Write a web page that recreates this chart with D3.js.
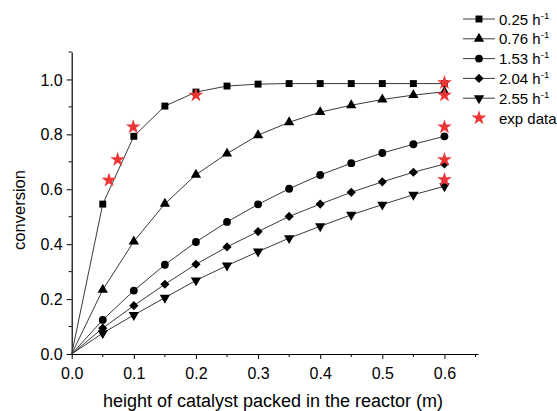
<!DOCTYPE html>
<html>
<head>
<meta charset="utf-8">
<script src="https://cdn.jsdelivr.net/npm/d3@7"></script>
<style>
  body { margin: 0; background: #fff; }
  svg { font-family: "Liberation Sans", Arial, sans-serif; }
</style>
</head>
<body>
<div class="chart"></div>
<script>
const width = 557;
const height = 411;

// data
const heights = [0, 0.05, 0.1, 0.15, 0.2, 0.25, 0.3, 0.35, 0.4, 0.45, 0.5, 0.55, 0.6];
const whsv025 = [0, 0.546, 0.793, 0.903, 0.954, 0.976, 0.983, 0.985, 0.985, 0.985, 0.985, 0.985, 0.985];
const whsv076 = [0, 0.234, 0.41, 0.547, 0.653, 0.73, 0.797, 0.844, 0.881, 0.906, 0.927, 0.943, 0.955];
const whsv153 = [0, 0.124, 0.231, 0.325, 0.408, 0.481, 0.545, 0.602, 0.652, 0.695, 0.732, 0.764, 0.793];
const whsv204 = [0, 0.094, 0.176, 0.254, 0.327, 0.39, 0.446, 0.501, 0.546, 0.589, 0.627, 0.662, 0.692];
const whsv255 = [0, 0.076, 0.142, 0.205, 0.268, 0.322, 0.373, 0.422, 0.465, 0.507, 0.544, 0.58, 0.611];
const expX = [0.06, 0.074, 0.099, 0.2, 0.6, 0.6, 0.6, 0.6, 0.6];
const expY = [0.633, 0.708, 0.827, 0.943, 0.988, 0.943, 0.827, 0.708, 0.635];
const seriesNames = ["0.25", "0.76", "1.53", "2.04", "2.55"];
const xTicks = [0, 0.1, 0.2, 0.3, 0.4, 0.5, 0.6];
const yTicks = [0, 0.2, 0.4, 0.6, 0.8, 1.0];

const series = [whsv025, whsv076, whsv153, whsv204, whsv255].map((vals, i) => ({
  name: seriesNames[i],
  points: heights.map((h, j) => [h, vals[j]])
}));
const expData = expX.map((x, i) => [x, expY[i]]);

const markers = [
  { type: d3.symbolSquare, size: 48, rotate: 0 },
  { type: d3.symbolTriangle, size: 46, rotate: 0 },
  { type: d3.symbolCircle, size: 48, rotate: 0 },
  { type: d3.symbolSquare, size: 42, rotate: 45 },
  { type: d3.symbolTriangle, size: 46, rotate: 180 }
];

const svg = d3.select(".chart").append("svg").attr("width", width).attr("height", height);

const x = d3.scaleLinear().domain([0, 0.654]).range([71.7, 478]);
const y = d3.scaleLinear().domain([0, 1.1]).range([354, 52]);

const lineColor = "#3a3a3a";

// axes
const xAxis = svg.append("g").attr("transform", `translate(0,${y(0)})`);
xAxis.call(d3.axisBottom(x).tickValues(xTicks).tickFormat(d3.format(".1f")).tickSizeInner(5).tickSizeOuter(0));
xAxis.append("g").selectAll("line")
  .data(d3.range(0.05, 0.66, 0.1))
  .enter().append("line")
    .attr("x1", d => x(d)).attr("x2", d => x(d))
    .attr("y1", 0).attr("y2", 3)
    .attr("stroke", "#000");

const yAxis = svg.append("g").attr("transform", `translate(${x(0)},0)`);
yAxis.call(d3.axisLeft(y).tickValues(yTicks).tickFormat(d3.format(".1f")).tickSizeInner(5).tickSizeOuter(0));
yAxis.append("g").selectAll("line")
  .data(d3.range(0.1, 1.11, 0.2))
  .enter().append("line")
    .attr("x1", 0).attr("x2", -3)
    .attr("y1", d => y(d)).attr("y2", d => y(d))
    .attr("stroke", "#000");

svg.selectAll(".domain").attr("stroke", "#000").attr("stroke-width", 1.2);
svg.selectAll(".tick line").attr("stroke", "#000");
svg.selectAll(".tick text").attr("font-size", 16).attr("fill", "#000")
  .attr("font-family", "Liberation Sans, Arial, sans-serif");
xAxis.selectAll(".tick text").attr("y", 14);
yAxis.selectAll(".tick text").attr("x", -9).attr("dy", "0.35em");

svg.append("text")
  .attr("x", 273).attr("y", 407)
  .attr("text-anchor", "middle")
  .attr("font-size", 18)
  .text("height of catalyst packed in the reactor (m)");

svg.append("text")
  .attr("transform", "translate(25,210) rotate(-90)")
  .attr("text-anchor", "middle")
  .attr("font-size", 16.5)
  .text("conversion");

// lines and markers
const line = d3.line().x(d => x(d[0])).y(d => y(d[1]));

series.forEach((s, i) => {
  svg.append("path")
    .datum(s.points)
    .attr("fill", "none")
    .attr("stroke", lineColor)
    .attr("stroke-width", 1)
    .attr("d", line);

  const m = markers[i];
  svg.append("g").selectAll("path")
    .data(s.points.slice(1))
    .enter().append("path")
      .attr("d", d3.symbol().type(m.type).size(m.size))
      .attr("transform", d => `translate(${x(d[0])},${y(d[1])}) rotate(${m.rotate})`)
      .attr("fill", "#000");
});

svg.append("g").selectAll("path")
  .data(expData)
  .enter().append("path")
    .attr("d", d3.symbol().type(d3.symbolStar).size(68))
    .attr("transform", d => `translate(${x(d[0])},${y(d[1])})`)
    .attr("fill", "#ee3535");

// legend
const legend = svg.append("g").attr("transform", "translate(463,19)");
const rowGap = 19.8;

series.forEach((s, i) => {
  const row = legend.append("g").attr("transform", `translate(0,${i * rowGap})`);
  row.append("line").attr("x1", 0).attr("x2", 32).attr("y1", 0).attr("y2", 0)
    .attr("stroke", lineColor).attr("stroke-width", 1);
  row.append("path")
    .attr("d", d3.symbol().type(markers[i].type).size(markers[i].size))
    .attr("transform", `translate(16,0) rotate(${markers[i].rotate})`)
    .attr("fill", "#000");
  const t = row.append("text").attr("x", 36).attr("y", 5.5).attr("font-size", 15);
  t.append("tspan").text(s.name + " h");
  t.append("tspan").attr("font-size", 9.5).attr("dy", -6).text("-1");
});

const expRow = legend.append("g").attr("transform", `translate(0,${5 * rowGap})`);
expRow.append("path")
  .attr("d", d3.symbol().type(d3.symbolStar).size(68))
  .attr("transform", "translate(16,0)")
  .attr("fill", "#ee3535");
expRow.append("text").attr("x", 36).attr("y", 5.5).attr("font-size", 15).text("exp data");
</script>
</body>
</html>
